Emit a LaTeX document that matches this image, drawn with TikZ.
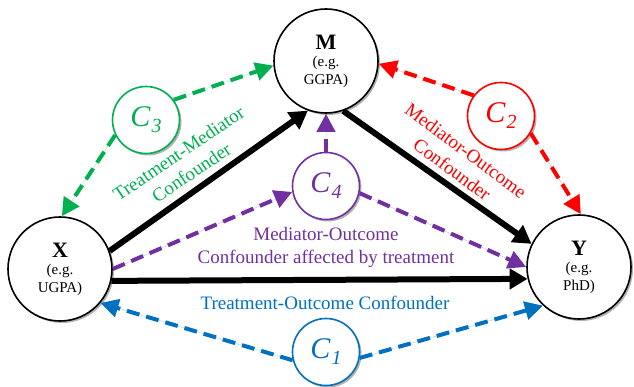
\documentclass[tikz,border=0pt]{standalone}
\usepackage{fontspec}
\setmainfont{Liberation Serif}
\usetikzlibrary{arrows.meta,shadows}
\definecolor{cgreen}{RGB}{0,176,80}
\definecolor{cred}{RGB}{255,0,0}
\definecolor{cpurple}{RGB}{112,48,160}
\definecolor{cblue}{RGB}{0,112,192}
\newcommand{\cvar}[1]{\fontsize{30}{30}\selectfont\textit{C}\kern1pt\raisebox{-6pt}{\fontsize{20}{20}\selectfont\textit{#1}}}
\begin{document}
\begin{tikzpicture}[x=1pt,y=-1pt,
  shad/.style={drop shadow={shadow xshift=2pt,shadow yshift=-2pt,opacity=0.3,fill=black}},
  bigcirc/.style={circle,draw=black,line width=1.6pt,fill=white,minimum size=104pt,inner sep=0pt,align=center,shad,
    font=\fontsize{15}{17.5}\selectfont},
  smallcirc/.style={circle,draw=#1,line width=1.6pt,fill=white,minimum size=67pt,inner sep=0pt,text=#1,shad},
  solidarrow/.style={draw=black,line width=6pt,-{Triangle[length=18pt,width=20pt]}},
  dasharrow/.style={draw=#1,fill=#1,line width=4pt,dash pattern=on 13pt off 7pt,-{Triangle[length=18pt,width=18pt]}},
  lbl/.style={text=#1,font=\fontsize{19}{23}\selectfont,align=center,inner sep=0pt}
]
\useasboundingbox (0,0) rectangle (634,387);

\node[bigcirc] (M) at (326,61) {{\fontsize{22}{26}\selectfont\bfseries M}\\(e.g.\\GGPA)};
\node[bigcirc] (X) at (60,269) {{\fontsize{22}{26}\selectfont\bfseries X}\\(e.g.\\UGPA)};
\node[bigcirc] (Y) at (579,267) {{\fontsize{22}{26}\selectfont\bfseries Y}\\(e.g.\\PhD)};

\node[smallcirc=cgreen] (C3) at (146,120) {\cvar{3}};
\node[smallcirc=cred] (C2) at (501,116) {\cvar{2}};
\node[smallcirc=cpurple] (C4) at (326,186) {\cvar{4}};
\node[smallcirc=cblue] (C1) at (326,352) {\cvar{1}};

\draw[solidarrow] (X.20) -- (M.250);
\draw[solidarrow] (M.289) -- (Y.154);
\draw[solidarrow] (X.-13) -- (Y.193);

\draw[dasharrow=cgreen] (C3.36) -- (M.185);
\draw[dasharrow=cgreen] (C3.206) -- (X.88);
\draw[dasharrow=cred] (C2.143) -- (M.-3);
\draw[dasharrow=cred] (C2.330) -- (Y.88);
\draw[dasharrow=cpurple] (X.0) -- (C4.190);
\draw[dasharrow=cpurple] (C4.90) -- (M.270);
\draw[dasharrow=cpurple] (C4.-12) -- (Y.180);
\draw[dasharrow=cblue] (C1.194) -- (X.320);
\draw[dasharrow=cblue] (C1.-10) -- (Y.227);

\node[lbl=cgreen,rotate=34] (LG) at (185,163) {Treatment-Mediator\\Confounder};
\node[lbl=cred,rotate=-36.5] (LR) at (459,160) {Mediator-Outcome\\Confounder};
\node[lbl=cpurple] (LP) at (326,247) {Mediator-Outcome\\Confounder affected by treatment};
\node[lbl=cblue] (LB) at (325,303) {Treatment-Outcome Confounder};
\end{tikzpicture}
\end{document}
